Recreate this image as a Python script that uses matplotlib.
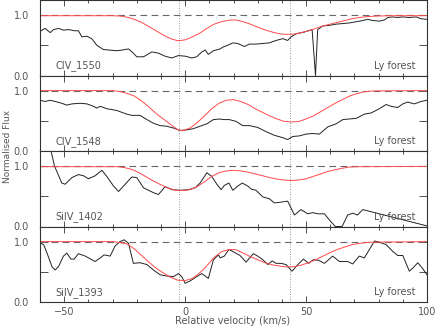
import matplotlib
matplotlib.use("Agg")
import matplotlib.pyplot as plt
from matplotlib.ticker import MultipleLocator, FixedLocator, FixedFormatter

ions = ["CIV_1550", "CIV_1548", "SiIV_1402", "SiIV_1393"]
comp_vel = [-2.5, 43.5]

# panel 1 : CIV 1550
v1 = [-60, -57.9, -55.8, -54.4, -52.3, -50.3, -48.2, -45.5, -44.1, -42.7, -40.6, -38.6, -36.5,
      -33.8, -31, -28.2, -26.2, -23.4, -21.4, -20, -17.2, -13.8, -11, -8.3, -5.5, -2.8, 0, 2.8,
      4.8, 6.9, 8.3, 9.6, 11.7, 14.5, 15.6, 17.6, 19.7, 21.8, 24.5, 26.6, 29.3, 32.1, 34.8, 37.6,
      40.4, 42.4, 43.8, 45.9, 49.3, 52.5, 53.9, 54.8, 56.9, 59.6, 62.4, 65.2, 67.9, 70.7, 73.4,
      75.5, 77.6, 80.3, 82.4, 83.8, 85.8, 87.9, 90, 92.7, 95.5, 97.5, 100]
f1 = [0.73, 0.78, 0.71, 0.76, 0.78, 0.75, 0.76, 0.74, 0.74, 0.64, 0.65, 0.61, 0.50,
      0.43, 0.42, 0.41, 0.42, 0.44, 0.37, 0.31, 0.31, 0.39, 0.37, 0.32, 0.29, 0.33, 0.32, 0.29,
      0.31, 0.39, 0.42, 0.35, 0.41, 0.44, 0.47, 0.50, 0.54, 0.53, 0.48, 0.52, 0.52, 0.53, 0.54, 0.58,
      0.61, 0.58, 0.64, 0.69, 0.72, 0.76, 0.0, 0.76, 0.82, 0.83, 0.85, 0.86, 0.87, 0.89, 0.91,
      0.93, 0.91, 0.90, 0.92, 0.96, 0.97, 0.96, 0.97, 0.96, 0.97, 0.94, 0.93]
m1_v = [-60, -30, -27, -24, -21, -18, -15, -12, -9, -6, -3, 0, 3, 6, 9, 12, 15, 18, 21, 24, 27,
        30, 33, 36, 39, 42, 45, 48, 51, 54, 57, 60, 63, 66, 69, 72, 75, 80, 85, 100]
m1 = [0.99, 0.99, 0.985, 0.965, 0.93, 0.88, 0.81, 0.74, 0.67, 0.61, 0.575, 0.59, 0.64, 0.70, 0.78,
      0.85, 0.89, 0.915, 0.92, 0.89, 0.85, 0.80, 0.755, 0.72, 0.69, 0.68, 0.685, 0.71, 0.74, 0.78,
      0.82, 0.85, 0.88, 0.91, 0.94, 0.96, 0.975, 0.985, 0.99, 0.99]

# panel 2 : CIV 1548
v2 = [-60, -57.9, -55.8, -53.7, -51, -48.9, -46.8, -43.4, -40.6, -37.9, -36.5, -35.1, -32.4,
      -28.2, -24.1, -22, -18.6, -15.8, -13.1, -10.3, -7.6, -4.8, -2.1, 0.7, 3.4, 6.2, 9, 11.7,
      14.5, 15.6, 18.3, 21.1, 23.8, 26.6, 30, 33.5, 36.9, 40.4, 42.4, 44.5, 47.2, 50, 52.8, 55.5,
      59, 62.4, 65.2, 67.9, 70.7, 74.1, 76.9, 80.3, 83.1, 85.1, 87.9, 90, 92, 94.8, 97.5, 100]
f2 = [0.84, 0.82, 0.84, 0.82, 0.79, 0.76, 0.78, 0.79, 0.78, 0.74, 0.71, 0.74, 0.70,
      0.67, 0.61, 0.59, 0.59, 0.52, 0.46, 0.42, 0.41, 0.38, 0.34, 0.35, 0.37, 0.41, 0.45, 0.52,
      0.53, 0.52, 0.52, 0.49, 0.42, 0.42, 0.39, 0.32, 0.26, 0.22, 0.19, 0.24, 0.25, 0.28, 0.29, 0.28,
      0.40, 0.45, 0.52, 0.53, 0.54, 0.61, 0.63, 0.70, 0.77, 0.74, 0.72, 0.78, 0.81, 0.78, 0.82, 0.84]
m2_v = [-60, -30, -27, -24, -21, -18, -15, -12, -9, -6, -3, -1, 2, 5, 8, 11, 14, 17, 20, 23, 26,
        29, 32, 35, 38, 41, 44, 47, 50, 53, 56, 59, 62, 65, 68, 71, 74, 78, 100]
m2 = [1.0, 1.0, 0.985, 0.955, 0.91, 0.83, 0.73, 0.62, 0.53, 0.44, 0.35, 0.335, 0.38, 0.47, 0.58,
      0.70, 0.79, 0.84, 0.85, 0.82, 0.77, 0.70, 0.64, 0.58, 0.53, 0.49, 0.48, 0.49, 0.53, 0.58,
      0.65, 0.72, 0.79, 0.85, 0.91, 0.95, 0.98, 0.995, 1.0]

# panel 3 : SiIV 1402
v3 = [-60, -56, -54, -51, -49.6, -46.8, -44.1, -42, -40, -37.2, -34.4, -32.4, -29.6, -27.5,
      -24.8, -22, -20, -17.2, -13.1, -11, -8.3, -5.5, -2.1, 1.4, 4.1, 6.2, 9, 11, 13.1, 14.9,
      16.2, 18.1, 19.7, 21.8, 23.6, 25.9, 27.3, 29.3, 32.1, 34.8, 36.9, 39, 42.4, 45.2, 47.9,
      50.7, 52.8, 54.8, 57.6, 59.6, 62.1, 64.9, 67.2, 69.3, 71.3, 73.4, 100]
f3 = [1.6, 1.35, 1.0, 0.72, 0.70, 0.81, 0.86, 0.84, 0.79, 0.84, 0.93, 0.83, 0.67, 0.58,
      0.70, 0.82, 0.81, 0.64, 0.56, 0.53, 0.66, 0.61, 0.60, 0.61, 0.64, 0.72, 0.89, 0.83, 0.70, 0.61,
      0.68, 0.72, 0.60, 0.67, 0.72, 0.67, 0.62, 0.60, 0.49, 0.46, 0.39, 0.40, 0.42, 0.19, 0.28,
      0.21, 0.23, 0.21, 0.21, 0.11, 0.0, 0.0, 0.19, 0.22, 0.19, 0.28, 0.01]
m3_v = [-60, -28, -25, -22, -19, -16, -13, -10, -7, -4, -1, 2, 5, 8, 11, 14, 17, 20, 23, 26, 29,
        32, 35, 38, 41, 44, 47, 50, 53, 56, 59, 62, 65, 68, 72, 100]
m3 = [0.99, 0.99, 0.975, 0.945, 0.89, 0.82, 0.75, 0.69, 0.635, 0.60, 0.595, 0.61, 0.66, 0.74,
      0.83, 0.89, 0.92, 0.93, 0.92, 0.90, 0.87, 0.84, 0.81, 0.785, 0.77, 0.76, 0.77, 0.79, 0.83,
      0.87, 0.91, 0.94, 0.965, 0.985, 0.99, 0.995]

# panel 4 : SiIV 1393
v4 = [-60, -58.5, -57.1, -55, -53.7, -52.3, -50.3, -48.9, -47.2, -45.9, -44.1, -41.3, -37.2,
      -35.1, -33.5, -31, -28.9, -26.9, -25.2, -23.4, -21.4, -18.6, -15.8, -13.1, -10.3, -7.6,
      -4.8, -2.8, -1.4, 0, 2.1, 4.8, 6.9, 8.3, 9.6, 11.7, 13.8, 14.5, 16.2, 18.1, 20.4, 22.7,
      25.2, 28.2, 30, 32.1, 34.2, 36, 37.6, 39.7, 41.7, 44.2, 46.6, 48.9, 51.1, 53, 55.2, 57.6,
      61, 63.8, 67.2, 69.3, 72, 74.1, 76.2, 78.3, 80.3, 83.1, 85.8, 87.9, 90, 92.7, 94.1, 96.2,
      98.3, 100]
f4 = [0.98, 0.95, 0.81, 0.58, 0.53, 0.59, 0.76, 0.81, 0.71, 0.71, 0.80, 0.76, 0.67,
      0.73, 0.78, 0.76, 0.93, 1.0, 1.03, 0.97, 0.64, 0.65, 0.62, 0.53, 0.45, 0.43,
      0.42, 0.47, 0.42, 0.31, 0.35, 0.42, 0.47, 0.43, 0.39, 0.70, 0.78, 0.73, 0.76, 0.87, 0.82, 0.77,
      0.66, 0.80, 0.76, 0.70, 0.62, 0.68, 0.64, 0.64, 0.62, 0.51, 0.62, 0.71, 0.64, 0.70, 0.69, 0.64,
      0.76, 0.67, 0.67, 0.63, 0.76, 0.73, 0.87, 1.01, 0.99, 0.95, 0.84, 0.77, 0.77, 0.51, 0.56, 0.65,
      0.55, 0.45]
m4_v = [-60, -30, -27, -24, -21, -18, -15, -12, -9, -6, -3, 0, 3, 6, 9, 12, 15, 18, 21, 24, 27,
        30, 33, 36, 39, 42, 45, 48, 51, 54, 57, 60, 63, 66, 69, 72, 76, 100]
m4 = [1.0, 1.0, 0.985, 0.96, 0.88, 0.77, 0.66, 0.56, 0.48, 0.41, 0.36, 0.355, 0.39, 0.48, 0.60,
      0.74, 0.83, 0.87, 0.865, 0.81, 0.75, 0.70, 0.65, 0.615, 0.595, 0.58, 0.585, 0.61, 0.65, 0.70,
      0.76, 0.82, 0.87, 0.91, 0.95, 0.97, 0.99, 1.0]

data = [(v1, f1, m1_v, m1), (v2, f2, m2_v, m2), (v3, f3, m3_v, m3), (v4, f4, m4_v, m4)]

txt = "#555555"
plt.rcParams["font.size"] = 7
plt.rcParams["axes.edgecolor"] = "#333333"
plt.rcParams["axes.linewidth"] = 0.8

fig = plt.figure(figsize=(4.36, 3.27), dpi=100)
left, width = 40 / 436, 387 / 436
ph = 75.5 / 327
bottom0 = 25 / 327

axes = []
for i in range(4):
    ax = fig.add_axes([left, bottom0 + (3 - i) * ph, width, ph])
    vel, flux, mv, mod = data[i]
    ax.axhline(1.0, color="#666666", lw=0.8, ls=(0, (6, 4)))
    for cv in comp_vel:
        ax.axvline(cv, color="#777777", lw=0.6, ls=(0, (1, 2)))
    ax.plot(vel, flux, color="#222222", lw=0.7)
    ax.plot(mv, mod, color="#ff4a4a", lw=0.7)
    ax.set_xlim(-60, 100)
    ax.set_ylim(0, 1.25)
    ax.xaxis.set_major_locator(MultipleLocator(50))
    ax.xaxis.set_minor_locator(MultipleLocator(10))
    ax.yaxis.set_major_locator(FixedLocator([0, 0.5, 1.0]))
    ax.yaxis.set_major_formatter(FixedFormatter(["0.0", "", "1.0"]))
    ax.tick_params(which="both", direction="in", top=True, right=True, colors="#333333",
                   labelcolor=txt, width=0.6)
    ax.tick_params(which="major", length=4)
    ax.tick_params(which="minor", length=2.5)
    ax.tick_params(axis="y", which="major", length=5.5, pad=8)
    if i < 3:
        ax.tick_params(labelbottom=False)
    ax.text(0.04, 0.13, ions[i], transform=ax.transAxes, color=txt, va="center", ha="left")
    ax.text(0.97, 0.13, "Ly forest", transform=ax.transAxes, color=txt, va="center", ha="right")
    axes.append(ax)

fig.text(233 / 436, 1 - 321 / 327, "Relative velocity (km/s)", ha="center", va="center", color=txt)
fig.text(8 / 436, 1 - 146 / 327, "Normalised Flux", rotation=90, ha="center", va="center",
         color=txt, fontsize=6.5)

fig.savefig("out.png", dpi=100)
